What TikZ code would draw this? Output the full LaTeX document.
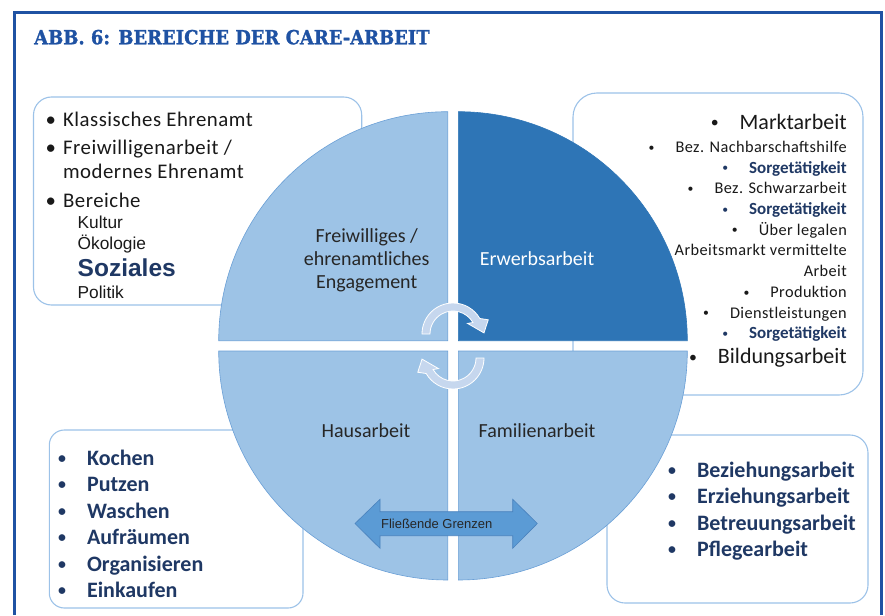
\documentclass[tikz,border=0pt]{standalone}
\usepackage{fontspec}
\setmainfont{Carlito}
\newfontfamily\spacedfont[LetterSpace=2.5]{Carlito}
\newfontfamily\arialfont{Liberation Sans}
\newfontfamily\slabfont[FakeStretch=0.92, BoldFont={DejaVu Serif Bold}, BoldFeatures={FakeBold=1.3}]{DejaVu Serif}

\definecolor{framebl}{HTML}{1F52A3}
\definecolor{navy}{HTML}{1F3864}
\definecolor{quadlt}{HTML}{9DC3E6}
\definecolor{quaddk}{HTML}{2E75B6}
\definecolor{quadedge}{HTML}{6A9FD6}
\definecolor{boxedge}{HTML}{9CC2E8}
\definecolor{flowfill}{HTML}{5B9BD5}
\definecolor{flowedge}{HTML}{4A82BD}
\definecolor{turnfill}{HTML}{C6D7EE}

\newcommand{\smallbul}{\raisebox{0.08em}{\scalebox{0.72}{\textbullet}}}
\newcommand{\bul}{\smallbul\hspace{21pt}}
\newcommand{\nbul}{\textcolor{navy}{\smallbul}\hspace{21pt}}

\begin{document}
\begin{tikzpicture}[
  x=1pt, y=1pt,
  frame/.style={draw=framebl, line width=3pt},
  infobox/.style={draw=boxedge, line width=1.1pt, fill=white, rounded corners=18pt},
  quad/.style={fill=quadlt, draw=quadedge, line width=0.6pt},
  quadlbl/.style={font=\fontsize{20}{23}\selectfont, align=center, text=black!85},
  turn/.style={fill=turnfill, draw=white, line width=0.8pt},
  flow/.style={fill=flowfill, draw=flowedge, line width=0.6pt},
  listtxt/.style={inner sep=0pt, text=black!90},
  navylist/.style={listtxt, align=left, text=navy, font=\bfseries\fontsize{22}{26.5}\selectfont}]

\useasboundingbox (0,0) rectangle (885,-615);

% ---------- frame and title
\draw[frame] (14.5,-615) -- (14.5,-12.5) -- (881.5,-12.5) -- (881.5,-615);
\node[anchor=base west, inner sep=0pt, text=framebl, font=\slabfont\bfseries\fontsize{19.5}{22}\selectfont] (title) at (34,-44.3) {ABB. 6: BEREICHE DER CARE-ARBEIT};

% ---------- boxes behind the circle
\draw[infobox] (33.5,-97) rectangle (361.7,-305);
\draw[infobox, rounded corners=24pt] (573,-93) rectangle (863,-395);
\draw[infobox, rounded corners=15pt] (49.3,-430) rectangle (303,-608);
\draw[infobox] (607,-435) rectangle (868,-603);

% ---------- four quadrants
\filldraw[quad] (447.7,-340.7) -- (218.7,-340.7) arc[start angle=180, end angle=90, radius=229] -- cycle;
\filldraw[quad, fill=quaddk, draw=quaddk] (458.3,-340.7) -- (458.3,-111.7) arc[start angle=90, end angle=0, radius=229] -- cycle;
\filldraw[quad] (447.7,-351) -- (447.7,-580) arc[start angle=270, end angle=180, radius=229] -- cycle;
\filldraw[quad] (458.3,-351) -- (687.3,-351) arc[start angle=0, end angle=-90, radius=229] -- cycle;

\node[quadlbl] (fe) at (366.7,-260) {Freiwilliges /\\ehrenamtliches\\Engagement};
\node[quadlbl, text=white] (ea) at (537,-259) {Erwerbsarbeit};
\node[quadlbl] (ha) at (366,-431) {Hausarbeit};
\node[quadlbl] (fa) at (537,-431) {Familienarbeit};

% ---------- turning arrows in the middle
\begin{scope}[shift={(453,-334)}]
  \filldraw[turn] (180:31) arc[start angle=180, end angle=30, radius=31] -- (22:38) -- (2:31) -- (36:18) -- (30:23) arc[start angle=30, end angle=180, radius=23] -- cycle;
\end{scope}
\begin{scope}[shift={(453,-358)}, rotate=180]
  \filldraw[turn] (180:31) arc[start angle=180, end angle=30, radius=31] -- (22:38) -- (2:31) -- (36:18) -- (30:23) arc[start angle=30, end angle=180, radius=23] -- cycle;
\end{scope}

% ---------- double arrow at the bottom
\filldraw[flow] (355,-523.5) -- (380,-499.3) -- (380,-511.7) -- (512.7,-511.7) -- (512.7,-499.3)
  -- (537.3,-523.5) -- (512.7,-548.3) -- (512.7,-535.7) -- (380,-535.7) -- (380,-548.3) -- cycle;
\node[font=\arialfont\fontsize{13}{15}\selectfont, text=black!85] (fg) at (436.7,-523.5) {Fließende Grenzen};

% ---------- top left: Ehrenamt
\node[listtxt, anchor=north west, align=left, font=\spacedfont\fontsize{20.8}{24}\selectfont] (ehren) at (45.5,-111.5)
  {\textbullet\hspace{7pt}Klassisches Ehrenamt\\[4.3pt]
   \textbullet\hspace{7pt}Freiwilligenarbeit /\\
   \phantom{\textbullet}\hspace{7pt}modernes Ehrenamt\\[5pt]
   \textbullet\hspace{7pt}Bereiche\\[-3pt]
   \hspace{32pt}{\arialfont\fontsize{17.3}{18}\selectfont Kultur}\\[-3pt]
   \hspace{32pt}{\arialfont\fontsize{17.3}{18}\selectfont Ökologie}\\[3pt]
   \hspace{32pt}{\arialfont\bfseries\fontsize{24.5}{26}\selectfont\color{navy}Soziales}\\[-2pt]
   \hspace{32pt}{\arialfont\fontsize{17.3}{18}\selectfont Politik}};

% ---------- top right: Erwerbsarbeit
\node[listtxt, anchor=north east, align=right, font=\spacedfont\fontsize{16.3}{20.7}\selectfont] (erwerb) at (847,-114)
  {{\normalfont\fontsize{22}{24}\selectfont\bul Marktarbeit}\\[2.3pt]
   \bul Bez. Nachbarschaftshilfe\\
   \nbul\textcolor{navy}{\normalfont\bfseries\fontsize{17}{20}\selectfont Sorgetätigkeit}\\
   \bul Bez. Schwarzarbeit\\
   \nbul\textcolor{navy}{\normalfont\bfseries\fontsize{17}{20}\selectfont Sorgetätigkeit}\\
   \bul Über legalen\\
   Arbeitsmarkt vermittelte\\
   Arbeit\\
   \bul Produktion\\
   \bul Dienstleistungen\\
   \nbul\textcolor{navy}{\normalfont\bfseries\fontsize{17}{20}\selectfont Sorgetätigkeit}\\[4.3pt]
   {\normalfont\fontsize{22}{24}\selectfont\bul Bildungsarbeit}};

% ---------- bottom left: Hausarbeit
\node[navylist, anchor=north west] (haus) at (58,-449.5)
  {\bul Kochen\\ \bul Putzen\\ \bul Waschen\\ \bul Aufräumen\\ \bul Organisieren\\ \bul Einkaufen};

% ---------- bottom right: Familienarbeit
\node[navylist, anchor=north west] (fam) at (668,-461.5)
  {\bul Beziehungsarbeit\\ \bul Erziehungsarbeit\\ \bul Betreuungsarbeit\\ \bul Pflegearbeit};
\end{tikzpicture}
\end{document}
